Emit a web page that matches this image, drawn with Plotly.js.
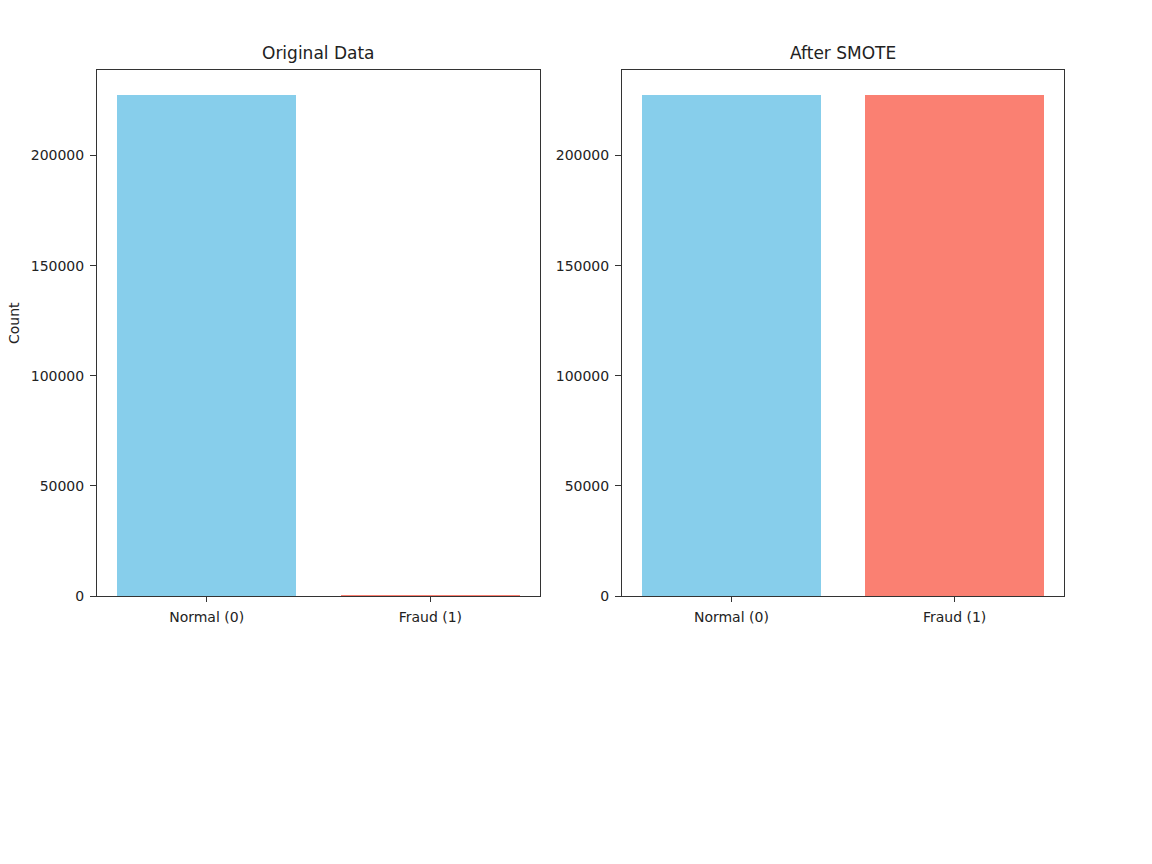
<!DOCTYPE html>
<html>
<head>
<meta charset="utf-8">
<script src="https://cdn.plot.ly/plotly-3.0.1.min.js"></script>
<style>html,body{margin:0;padding:0;background:#fff;}#chart{width:1152px;height:864px;}</style>
</head>
<body>
<div id="chart"></div>
<script>
const categories = ["Normal (0)", "Fraud (1)"];
const originalCounts = [227451, 394];
const smoteCounts = [227451, 227451];
const originalColors = ["#87CEEB", "#FA8072"];
const smoteColors = ["#87CEEB", "#FA8072"];
const subplotTitles = ["Original Data", "After SMOTE"];
const yLabel = "Count";
const yTickVals = [0, 50000, 100000, 150000, 200000];
const yTickText = ["0", "50000", "100000", "150000", "200000"];

const xpos = categories.map((_, i) => i);
const ymax = Math.max(...originalCounts, ...smoteCounts) * 1.05;

const traces = [
  {type: "bar", x: xpos, y: originalCounts, width: 0.8, marker: {color: originalColors}, xaxis: "x", yaxis: "y", hoverinfo: "skip"},
  {type: "bar", x: xpos, y: smoteCounts, width: 0.8, marker: {color: smoteColors}, xaxis: "x2", yaxis: "y2", hoverinfo: "skip"}
];

const axFont = {family: "DejaVu Sans", size: 14, color: "#222"};
function xax(domain, anchor) {
  return {domain: domain, anchor: anchor, range: [-0.49, 1.49], tickmode: "array", tickvals: xpos, ticktext: categories,
    showline: true, linecolor: "#333", linewidth: 1, mirror: true, ticks: "outside", ticklen: 5, tickcolor: "#333",
    ticklabelstandoff: 3,
    showgrid: false, zeroline: false, tickfont: axFont, fixedrange: true};
}
function yax(anchor) {
  return {domain: [0, 1], anchor: anchor, range: [0, ymax], tickmode: "array", tickvals: yTickVals,
    ticktext: yTickText,
    showline: true, linecolor: "#333", linewidth: 1, mirror: true, ticks: "outside", ticklen: 6, tickcolor: "#333",
    ticklabelstandoff: 3,
    showgrid: false, zeroline: false, tickfont: axFont, fixedrange: true};
}
const d1 = [0, 443/967], d2 = [525/967, 1];
const titleFont = {family: "DejaVu Sans", size: 17, color: "#222"};
const layout = {
  width: 1152, height: 864,
  margin: {l: 97, r: 88, t: 70, b: 268},
  paper_bgcolor: "#fff", plot_bgcolor: "#fff",
  showlegend: false, bargap: 0,
  font: {family: "DejaVu Sans", color: "#222"},
  xaxis: xax(d1, "y"), yaxis: yax("x"),
  xaxis2: xax(d2, "y2"), yaxis2: yax("x2"),
  annotations: [
    {text: subplotTitles[0], xref: "paper", yref: "paper", x: (d1[0]+d1[1])/2, y: 1, yshift: 5, xanchor: "center", yanchor: "bottom", showarrow: false, font: titleFont},
    {text: subplotTitles[1], xref: "paper", yref: "paper", x: (d2[0]+d2[1])/2, y: 1, yshift: 5, xanchor: "center", yanchor: "bottom", showarrow: false, font: titleFont},
    {text: yLabel, xref: "paper", yref: "paper", x: 0, xshift: -83, y: 0.5, yshift: 10, xanchor: "center", yanchor: "middle", textangle: -90, showarrow: false, font: {family: "DejaVu Sans", size: 14, color: "#222"}}
  ]
};
Plotly.newPlot("chart", traces, layout, {displayModeBar: false, staticPlot: true});
</script>
</body>
</html>
